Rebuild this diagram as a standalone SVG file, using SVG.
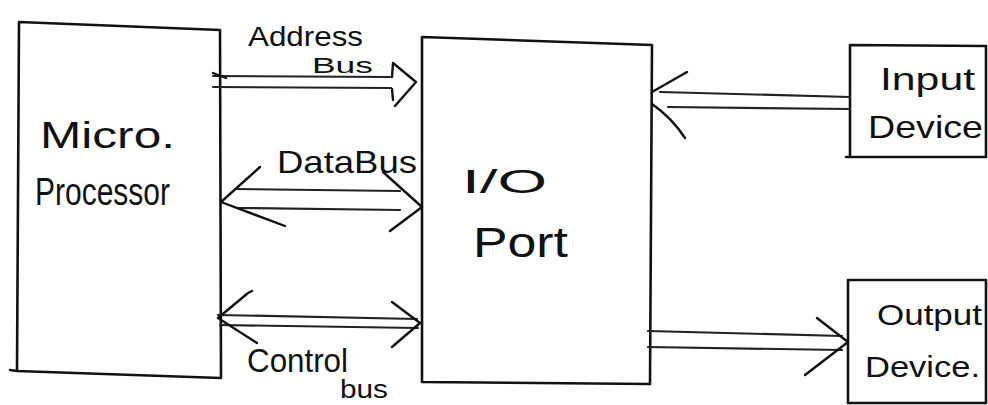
<svg xmlns="http://www.w3.org/2000/svg" width="988" height="405" viewBox="0 0 988 405">
<style>
.box{fill:none;stroke:#111;stroke-width:2.6;stroke-linejoin:round;stroke-linecap:round}
.bus{fill:none;stroke:#222;stroke-width:2.2;stroke-linecap:round}
.head{fill:none;stroke:#111;stroke-width:2.4;stroke-linecap:round;stroke-linejoin:round}
.t{font-family:"Liberation Sans","DejaVu Sans",sans-serif;fill:#111;font-weight:normal}
</style>
<rect width="988" height="405" fill="#fff"/>
<g id="microprocessor">
<path class="box" d="M19,22 L220,30 L221,378 L17,371 Z M17,371 L10,370"/>
<text class="t" x="40" y="148" font-size="36" textLength="135" lengthAdjust="spacingAndGlyphs">Micro.</text>
<text class="t" x="35" y="205" font-size="38" textLength="135" lengthAdjust="spacingAndGlyphs">Processor</text>
</g>
<g id="io-port">
<path class="box" d="M422,37 L652,45 L650,384 L422,382 Z"/>
<text class="t" x="462" y="193" font-size="34" textLength="85" lengthAdjust="spacingAndGlyphs">I/O</text>
<text class="t" x="473" y="257" font-size="42" textLength="95" lengthAdjust="spacingAndGlyphs">Port</text>
</g>
<g id="input-device">
<path class="box" d="M850,45 L986,46 L986,157 L846,157 M850,45 L850,157"/>
<text class="t" x="880" y="90" font-size="32" textLength="95" lengthAdjust="spacingAndGlyphs">Input</text>
<text class="t" x="868" y="138" font-size="32" textLength="115" lengthAdjust="spacingAndGlyphs">Device</text>
</g>
<g id="output-device">
<path class="box" d="M848,280 L986,280 L986,403 L848,403 Z"/>
<text class="t" x="877" y="325" font-size="30" textLength="105" lengthAdjust="spacingAndGlyphs">Output</text>
<text class="t" x="865" y="377" font-size="30" textLength="115" lengthAdjust="spacingAndGlyphs">Device.</text>
</g>
<g id="connectors">
<!-- Address bus -->
<path class="bus" d="M213,76 L390,77 M213,87 L391,88"/>
<path class="head" d="M213,73 L226,78 M393,63 L416,82 L395,106 M393,63 L392,77 M392,89 L393,100"/>
<text class="t" x="248" y="46" font-size="28" textLength="115" lengthAdjust="spacingAndGlyphs">Address</text>
<text class="t" x="312" y="73" font-size="22" textLength="61" lengthAdjust="spacingAndGlyphs">Bus</text>
<!-- Data bus -->
<path class="bus" d="M235,189 L400,191 M238,208 L400,210"/>
<path class="head" d="M260,167 L221,202 L285,226 M383,172 L422,207 L390,231"/>
<text class="t" x="277" y="173" font-size="32" textLength="140" lengthAdjust="spacingAndGlyphs">DataBus</text>
<!-- Control bus -->
<path class="bus" d="M218,315 L417,319 M220,325 L418,328"/>
<path class="head" d="M252,291 L248,293 L218,318 L257,343 M392,302 L420,323 L392,347"/>
<text class="t" x="247" y="372" font-size="34" textLength="101" lengthAdjust="spacingAndGlyphs">Control</text>
<text class="t" x="340" y="398" font-size="26" textLength="48" lengthAdjust="spacingAndGlyphs">bus</text>
<!-- Input to I/O -->
<path class="bus" d="M660,92 L850,97 M668,107 L850,109"/>
<path class="head" d="M687,72 L652,92 M652,104 Q672,118 685,138"/>
<!-- I/O to Output -->
<path class="bus" d="M648,331 L842,336 M648,347 L842,350"/>
<path class="head" d="M817,318 L848,342 L805,375"/>
</g>
</svg>
